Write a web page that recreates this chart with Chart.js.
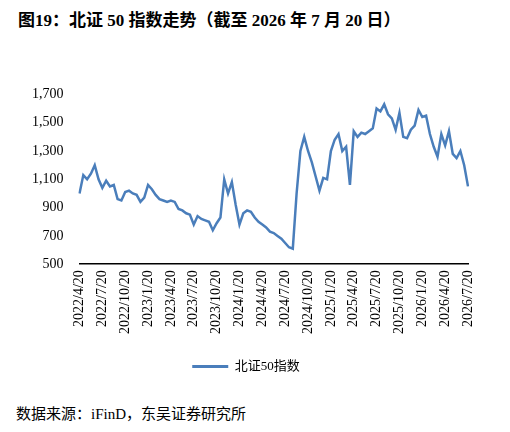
<!DOCTYPE html>
<html>
<head>
<meta charset="utf-8">
<script src="https://cdn.jsdelivr.net/npm/chart.js@4"></script>
<style>
  body { margin: 0; background: #fff; font-family: "Liberation Serif", "Noto Sans CJK SC", serif; }
  #title { position: absolute; left: 18px; top: 6px; font-size: 17px; font-weight: bold; color: #000; }
  #source { position: absolute; left: 16px; top: 402px; font-size: 15px; color: #000; }
  #wrap { position: absolute; left: 0; top: 78px; width: 510px; height: 305px; }
</style>
</head>
<body>
<div id="title">图19：北证 50 指数走势（截至 2026 年 7 月 20 日）</div>
<div id="wrap"><canvas id="chart"></canvas></div>
<div id="source">数据来源：iFinD，东吴证券研究所</div>
<script>
// half-month sampling: the 5th and 20th of each month
const dates = [];
for (let y = 2022, m = 4, d = 20; ; ) {
  dates.push(y + '/' + m + '/' + d);
  if (y === 2026 && m === 7 && d === 20) break;
  if (d === 5) { d = 20; } else { d = 5; m++; if (m > 12) { m = 1; y++; } }
}

const seriesName = '北证50指数';
const values = [
  1000, 1130, 1100, 1140, 1200, 1100, 1040, 1090, 1050, 1060,
  960, 950, 1010, 1020, 1000, 990, 940, 970, 1060, 1030,
  990, 960, 950, 940, 950, 940, 890, 880, 860, 850,
  780, 840, 820, 810, 800, 740, 790, 830, 1100, 1000,
  1080, 920, 780, 860, 880, 870, 830, 800, 780, 760,
  730, 720, 700, 680, 650, 620, 610, 1000, 1300, 1400,
  1300, 1220, 1120, 1020, 1110, 1100, 1300, 1380, 1420, 1300,
  1330, 1060, 1440, 1400, 1430, 1420, 1440, 1460, 1600, 1580,
  1630, 1560, 1530, 1450, 1570, 1400, 1390, 1450, 1480, 1590,
  1540, 1550, 1420, 1330, 1260, 1420, 1340, 1440, 1280, 1250,
  1300, 1200, 1050
];
const tickMonths = [1, 4, 7, 10];
const yTicks = [500, 700, 900, 1100, 1300, 1500, 1700];

const font = { family: '"Liberation Serif", "Noto Sans CJK SC", serif', size: 14 };

new Chart(document.getElementById('chart'), {
  type: 'line',
  data: {
    labels: dates,
    datasets: [{
      label: seriesName,
      data: values,
      borderColor: '#4a7ebb',
      backgroundColor: '#4a7ebb',
      borderWidth: 2.5,
      pointRadius: 0,
      tension: 0
    }]
  },
  options: {
    responsive: true,
    maintainAspectRatio: false,
    animation: false,
    layout: { padding: { left: 24, right: 42, top: 0, bottom: 0 } },
    plugins: {
      legend: {
        position: 'bottom',
        labels: {
          color: '#000', font: { family: font.family, size: 13 },
          boxWidth: 36, boxHeight: 0, padding: 20,
          generateLabels: chart => [{
            text: seriesName, strokeStyle: '#4a7ebb', fillStyle: '#4a7ebb',
            lineWidth: 3, datasetIndex: 0
          }]
        }
      },
      tooltip: { enabled: false }
    },
    scales: {
      x: {
        grid: { display: false, drawTicks: false },
        border: { color: '#000', width: 1.5 },
        ticks: {
          autoSkip: false, maxRotation: 90, minRotation: 90, color: '#000', font: font, padding: 6,
          callback: function (v, i) {
            const p = dates[i].split('/');
            return (p[2] === '20' && tickMonths.includes(+p[1])) ? dates[i] : null;
          }
        }
      },
      y: {
        min: 500, max: 1700,
        afterBuildTicks: axis => { axis.ticks = yTicks.map(v => ({ value: v })); },
        grid: { display: false },
        border: { display: false },
        ticks: {
          color: '#000', font: font, padding: 8,
          callback: v => v.toLocaleString('en-US')
        }
      }
    }
  }
});
</script>
</body>
</html>
